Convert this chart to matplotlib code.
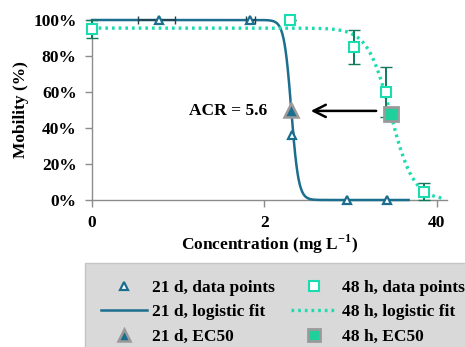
import numpy as np
import matplotlib
matplotlib.use('Agg')
import matplotlib.pyplot as plt

plt.rcParams['font.family'] = ['Liberation Serif', 'DejaVu Serif']
plt.rcParams['font.weight'] = 'bold'
plt.rcParams['mathtext.fontset'] = 'custom'
plt.rcParams['mathtext.rm'] = 'Liberation Serif:bold'
plt.rcParams['mathtext.bf'] = 'Liberation Serif:bold'

# 21 d data
c21 = [0.78, 1.84, 3.23, 8.41, 17.0]
m21 = [100, 100, 36, 0, 0]
xerr21_lo = [0.25, 0.05, 0.07, 0, 0]
xerr21_hi = [0.18, 0.05, 0.07, 0, 0]
ec50_21 = 3.2

# 48 h data
c48 = [0.0, 3.14, 9.45, 16.5, 32.1]
m48 = [95, 100, 85, 60, 4.6]
yerr48 = [5, 0, 9.6, 14, 4.7]
ec50_48 = 18.0

# logistic fit parameters
top21, slope21 = 100, 16
top48, slope48 = 95.5, 5.0

c_21 = '#1b6e8e'
c_48 = '#19dcb0'


def fwd(x):
    x = np.asarray(x, float)
    return np.where(x <= 2, x / 2, 1 + np.log10(np.maximum(x, 2) / 2) / np.log10(20))


def inv(y):
    y = np.asarray(y, float)
    return np.where(y <= 1, 2 * y, 2 * 20.0 ** (np.maximum(y, 1) - 1))


def logistic(x, top, ec50, b):
    return top / (1 + (x / ec50) ** b)


fig = plt.figure(figsize=(4.65, 3.47), dpi=100)
ax = fig.add_axes([92 / 465, 147 / 347, 355 / 465, 180 / 347])
ax.set_xscale('function', functions=(fwd, inv))

xf21 = np.concatenate([np.linspace(0, 2, 50), np.geomspace(2, 24.6, 400)])
xf48 = np.concatenate([np.linspace(0, 2, 50), np.geomspace(2, 44, 400)])

l21, = ax.plot(xf21, logistic(xf21, top21, ec50_21, slope21), color=c_21, lw=1.8,
               label='21 d, logistic fit', clip_on=False, zorder=3)
l48, = ax.plot(xf48, logistic(xf48, top48, ec50_48, slope48), color=c_48, lw=2.4,
               ls=(0, (0.8, 1.2)), label='48 h, logistic fit', clip_on=False, zorder=3)

ax.errorbar(c21, m21, xerr=[xerr21_lo, xerr21_hi], fmt='none', ecolor='#23404c',
            elinewidth=1.2, capsize=3, clip_on=False, zorder=4)
p21, = ax.plot(c21, m21, ls='none', marker='^', ms=6, mfc='white', mec=c_21, mew=1.6,
               label='21 d, data points', clip_on=False, zorder=5)

ax.errorbar(c48, m48, yerr=yerr48, fmt='none', ecolor='#117a5c',
            elinewidth=1.4, capsize=4, clip_on=False, zorder=4)
p48, = ax.plot(c48, m48, ls='none', marker='s', ms=6.5, mfc='white', mec=c_48, mew=1.5,
               label='48 h, data points', clip_on=False, zorder=5)

e21, = ax.plot([ec50_21], [50], ls='none', marker='^', ms=10, mfc=c_21, mec='#9a9a9a', mew=1.8,
               label='21 d, EC50', zorder=6)
e48, = ax.plot([ec50_48], [48], ls='none', marker='s', ms=10, mfc='#1fcf9c', mec='#9a9a9a', mew=2,
               label='48 h, EC50', zorder=6)

ax.annotate('', xy=(4.28, 49.5), xytext=(14.7, 49.5),
            arrowprops=dict(arrowstyle='->', lw=1.8, color='black', mutation_scale=22))
ax.text(1.13, 49.5, 'ACR = 5.6', ha='left', va='center', fontsize=12.5, fontweight='bold')

ax.set_xlim(0, 48)
ax.set_ylim(0, 100)
ax.set_xticks([0, 2, 40])
ax.set_xticklabels(['0', '2', '40'])
ax.xaxis.set_minor_locator(matplotlib.ticker.NullLocator())
ax.set_yticks([0, 20, 40, 60, 80, 100])
ax.set_yticklabels(['%d%%' % v for v in [0, 20, 40, 60, 80, 100]])
for s in ['top', 'right']:
    ax.spines[s].set_visible(False)
for s in ['left', 'bottom']:
    ax.spines[s].set_color('#8c8c8c')
    ax.spines[s].set_linewidth(1.0)
ax.tick_params(length=5, width=1, color='#8c8c8c', labelsize=12.5, pad=6)
ax.set_xlabel(r'Concentration (mg L$^{-1}$)', fontsize=12.5, fontweight='bold', labelpad=1)
ax.set_ylabel('Mobility (%)', fontsize=12.5, fontweight='bold', labelpad=3)

leg = fig.legend([p21, l21, e21, p48, l48, e48],
                 [h.get_label() for h in [p21, l21, e21, p48, l48, e48]],
                 loc='upper left', bbox_to_anchor=(85 / 465, 84 / 347, 396 / 465, 0),
                 mode='expand', ncol=2, fontsize=12.5, frameon=True, fancybox=False,
                 facecolor='#d9d9d9', edgecolor='#c4c4c4', framealpha=1,
                 handlelength=2.6, handletextpad=0.3, labelspacing=0.48, borderaxespad=0,
                 borderpad=0.95)
for h in leg.legend_handles:
    if h.get_marker() in ('^', 's') and h.get_markersize() > 9:
        h.set_markersize(8)

fig.savefig('out.png', dpi=100)
